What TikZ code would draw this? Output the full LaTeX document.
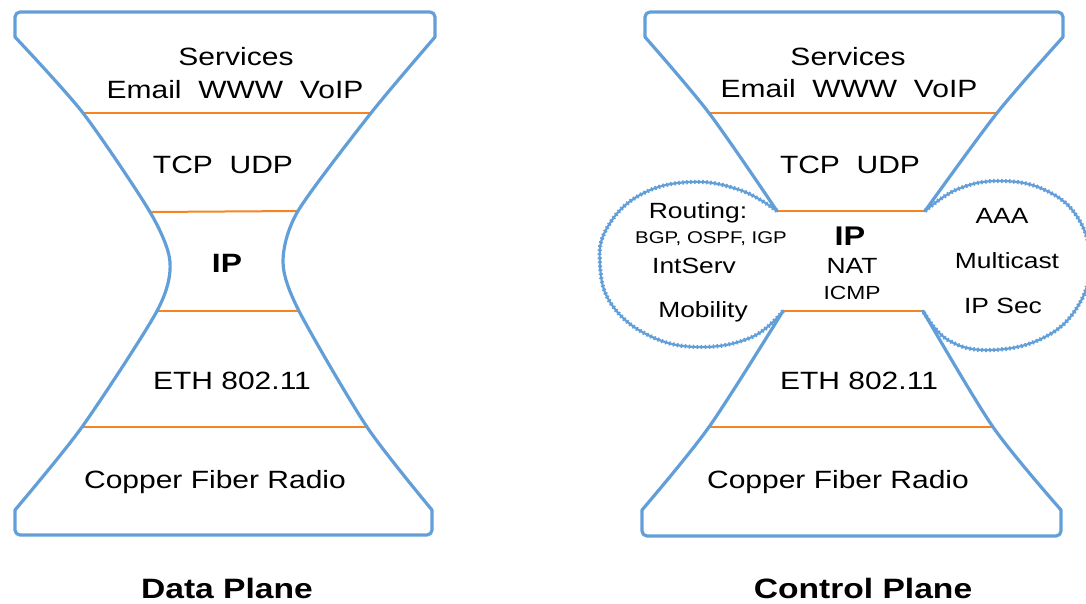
\documentclass[tikz,border=0pt]{standalone}
\usepackage{fontspec}
\setmainfont{Liberation Sans}[FakeStretch=1.2]
\definecolor{hgblue}{RGB}{98,158,216}
\definecolor{hgorange}{RGB}{245,132,36}

\begin{document}
\begin{tikzpicture}[
    x=1pt, y=-1pt,
    outline/.style={draw=hgblue, line width=3.2pt, line cap=round, line join=round},
    capline/.style={outline, rounded corners=5pt},
    layer/.style={draw=hgorange, line width=2pt},
    cloudline/.style={draw=hgblue, line width=2.2pt,
        postaction={draw=hgblue, line width=4.2pt, dash pattern=on 1.5pt off 2.5pt}},
    lbl/.style={anchor=base, inner sep=0pt, font=\fontsize{25}{30}\selectfont},
    sublbl/.style={lbl, font=\fontsize{22}{26}\selectfont},
    tinylbl/.style={lbl, font=\fontsize{17}{20}\selectfont},
    iplbl/.style={lbl, font=\bfseries\fontsize{26.5}{30}\selectfont},
    title/.style={lbl, font=\bfseries\fontsize{28}{32}\selectfont}
]
\useasboundingbox (0,0) rectangle (1086,603);

% Data plane: layer borders
\draw[layer] (83,113) -- (371,113);
\draw[layer] (150,212) -- (298,211);
\draw[layer] (157,311) -- (299,311);
\draw[layer] (82,427) -- (367,427);

% Data plane: hourglass outline
\draw[capline] (15,37) -- (15,12) -- (435,12) -- (435,37);
\draw[outline] plot[smooth, tension=0.45] coordinates {(435,37) (371,113) (298,211) (283,262) (299,311) (367,427) (432,510)};
\draw[capline] (432,510) -- (432,535) -- (15,535) -- (15,510);
\draw[outline] plot[smooth, tension=0.45] coordinates {(15,510) (82,427) (157,311) (170,262) (150,212) (83,113) (15,37)};

% Data plane: labels
\node[lbl] (svcL) at (236,65) {Services};
\node[lbl] (appL) at (235,98) {Email\ \ WWW\ \ VoIP};
\node[lbl] (tcpL) at (223,173) {TCP\ \ UDP};
\node[iplbl] (ipL) at (227,272) {IP};
\node[lbl] (ethL) at (232,389) {ETH 802.11};
\node[lbl] (phyL) at (215,488) {Copper Fiber Radio};
\node[title] (dataplane) at (227,598) {Data Plane};

% Control plane: layer borders
\draw[layer] (709,113) -- (997,113);
\draw[layer] (777,211) -- (925,211);
\draw[layer] (783,311) -- (923,311);
\draw[layer] (709,427) -- (993,427);

% Control plane: hourglass outline
\draw[capline] (645,37) -- (645,12) -- (1063,12) -- (1063,37);
\draw[outline] plot[smooth, tension=0.5] coordinates {(645,37) (709,113) (777,211)};
\draw[outline] plot[smooth, tension=0.5] coordinates {(1063,37) (997,113) (925,211)};
\draw[outline] plot[smooth, tension=0.5] coordinates {(783,311) (709,427) (642,510)};
\draw[outline] plot[smooth, tension=0.5] coordinates {(923,311) (993,427) (1061,510)};
\draw[capline] (642,510) -- (642,536) -- (1061,536) -- (1061,510);

% Control plane: clouds on the IP waist
\draw[cloudline] plot[smooth, tension=0.7] coordinates {(777,211) (740,190) (690,182) (640,195) (607,228) (600,265) (612,305) (650,336) (700,347) (752,337) (783,311)};
\draw[cloudline] plot[smooth, tension=0.7] coordinates {(925,211) (958,189) (1000,181) (1045,190) (1078,218) (1090,262) (1078,306) (1043,338) (990,350) (948,340) (923,311)};

% Control plane: labels
\node[lbl] (svcR) at (848,65) {Services};
\node[lbl] (appR) at (849,97) {Email\ \ WWW\ \ VoIP};
\node[lbl] (tcpR) at (850,173) {TCP\ \ UDP};
\node[iplbl, font=\bfseries\fontsize{27}{30}\selectfont] (ipR) at (850,245) {IP};
\node[sublbl] (nat) at (852,273) {NAT};
\node[sublbl, font=\fontsize{19}{22}\selectfont] (icmp) at (852,299) {ICMP};
\node[sublbl] (routing) at (698,218) {Routing:};
\node[tinylbl] (bgp) at (711,243) {BGP, OSPF, IGP};
\node[sublbl] (intserv) at (694,273) {IntServ};
\node[sublbl] (mobility) at (703,317) {Mobility};
\node[sublbl] (aaa) at (1002,223) {AAA};
\node[sublbl] (mcast) at (1007,268) {Multicast};
\node[sublbl] (ipsec) at (1003,313) {IP Sec};
\node[lbl] (ethR) at (859,389) {ETH 802.11};
\node[lbl] (phyR) at (838,488) {Copper Fiber Radio};
\node[title] (ctrlplane) at (863,598) {Control Plane};

\end{tikzpicture}
\end{document}
